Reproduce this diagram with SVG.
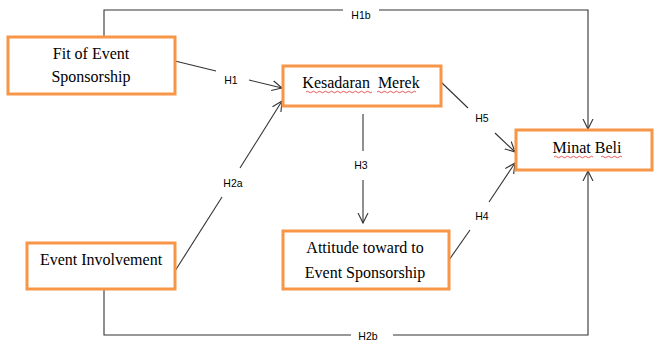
<svg xmlns="http://www.w3.org/2000/svg" width="656" height="341" viewBox="0 0 656 341">
<style>
.box{fill:#fff;stroke:#F79646;stroke-width:3}
.t{font-family:"Liberation Serif","Times New Roman",serif;font-size:16px;fill:#000;text-anchor:middle}
.lbl{font-family:"Liberation Sans",Arial,sans-serif;font-size:10.5px;fill:#000;text-anchor:middle}
.ln{fill:none;stroke:#333;stroke-width:1.1}
.sq{fill:none;stroke:#e03030;stroke-width:0.8}
</style>
<defs>
<marker id="arr" markerUnits="userSpaceOnUse" markerWidth="12" markerHeight="12" refX="10" refY="5" orient="auto" viewBox="0 0 12 10">
<path d="M0,0 L10,5 L0,10" fill="none" stroke="#333" stroke-width="1.1"/>
</marker>
</defs>
<rect width="656" height="341" fill="#fff"/>
<g id="connectors">
<path class="ln" d="M104,37 V10 H343"/>
<path class="ln" d="M379,10 H588 V129" marker-end="url(#arr)"/>
<text class="lbl" x="361" y="19">H1b</text>
<path class="ln" d="M175,61 L216,71"/>
<path class="ln" d="M249,80 L282,88" marker-end="url(#arr)"/>
<text class="lbl" x="231" y="84">H1</text>
<path class="ln" d="M175,271 L222,197"/>
<path class="ln" d="M240,168 L282,101" marker-end="url(#arr)"/>
<text class="lbl" x="233" y="187">H2a</text>
<path class="ln" d="M441,82 L468,108"/>
<path class="ln" d="M495,133 L515,152" marker-end="url(#arr)"/>
<text class="lbl" x="482" y="122">H5</text>
<path class="ln" d="M363,114 V151"/>
<path class="ln" d="M363,180 V223" marker-end="url(#arr)"/>
<text class="lbl" x="361" y="169">H3</text>
<path class="ln" d="M449,260 L470,230"/>
<path class="ln" d="M489,202 L515,163" marker-end="url(#arr)"/>
<text class="lbl" x="482" y="220">H4</text>
<path class="ln" d="M104,289 V335 H351"/>
<path class="ln" d="M393,335 H588 V171" marker-end="url(#arr)"/>
<text class="lbl" x="368" y="340">H2b</text>
</g>
<g id="fit">
<rect class="box" x="8" y="37" width="167" height="57"/>
<text class="t" x="91" y="59">Fit of Event</text>
<text class="t" x="91" y="82">Sponsorship</text>
</g>
<g id="kesadaran">
<rect class="box" x="283" y="66" width="158" height="40"/>
<text class="t" x="361" y="88" xml:space="preserve">Kesadaran  Merek</text>
<path class="sq" d="M306,92 q1.5,-1.5 3,0 t3,0 t3,0 t3,0 t3,0 t3,0 t3,0 t3,0 t3,0 t3,0 t3,0 t3,0 t3,0 t3,0 t3,0 t3,0 t3,0 t3,0 t3,0 t3,0 t3,0 t3,0"/>
<path class="sq" d="M377,92 q1.5,-1.5 3,0 t3,0 t3,0 t3,0 t3,0 t3,0 t3,0 t3,0 t3,0 t3,0 t3,0 t3,0 t3,0"/>
</g>
<g id="minat">
<rect class="box" x="516" y="130" width="136" height="40"/>
<text class="t" x="587" y="153">Minat Beli</text>
<path class="sq" d="M554,157 q1.5,-1.5 3,0 t3,0 t3,0 t3,0 t3,0 t3,0 t3,0 t3,0 t3,0 t3,0 t3,0 t3,0 t3,0"/>
<path class="sq" d="M601,157 q1.5,-1.5 3,0 t3,0 t3,0 t3,0 t3,0 t3,0 t3,0"/>
</g>
<g id="involvement">
<rect class="box" x="27" y="243" width="148" height="46"/>
<text class="t" x="101" y="265">Event Involvement</text>
</g>
<g id="attitude">
<rect class="box" x="283" y="231" width="166" height="58"/>
<text class="t" x="365" y="253">Attitude toward to</text>
<text class="t" x="365" y="278">Event Sponsorship</text>
</g>
</svg>
